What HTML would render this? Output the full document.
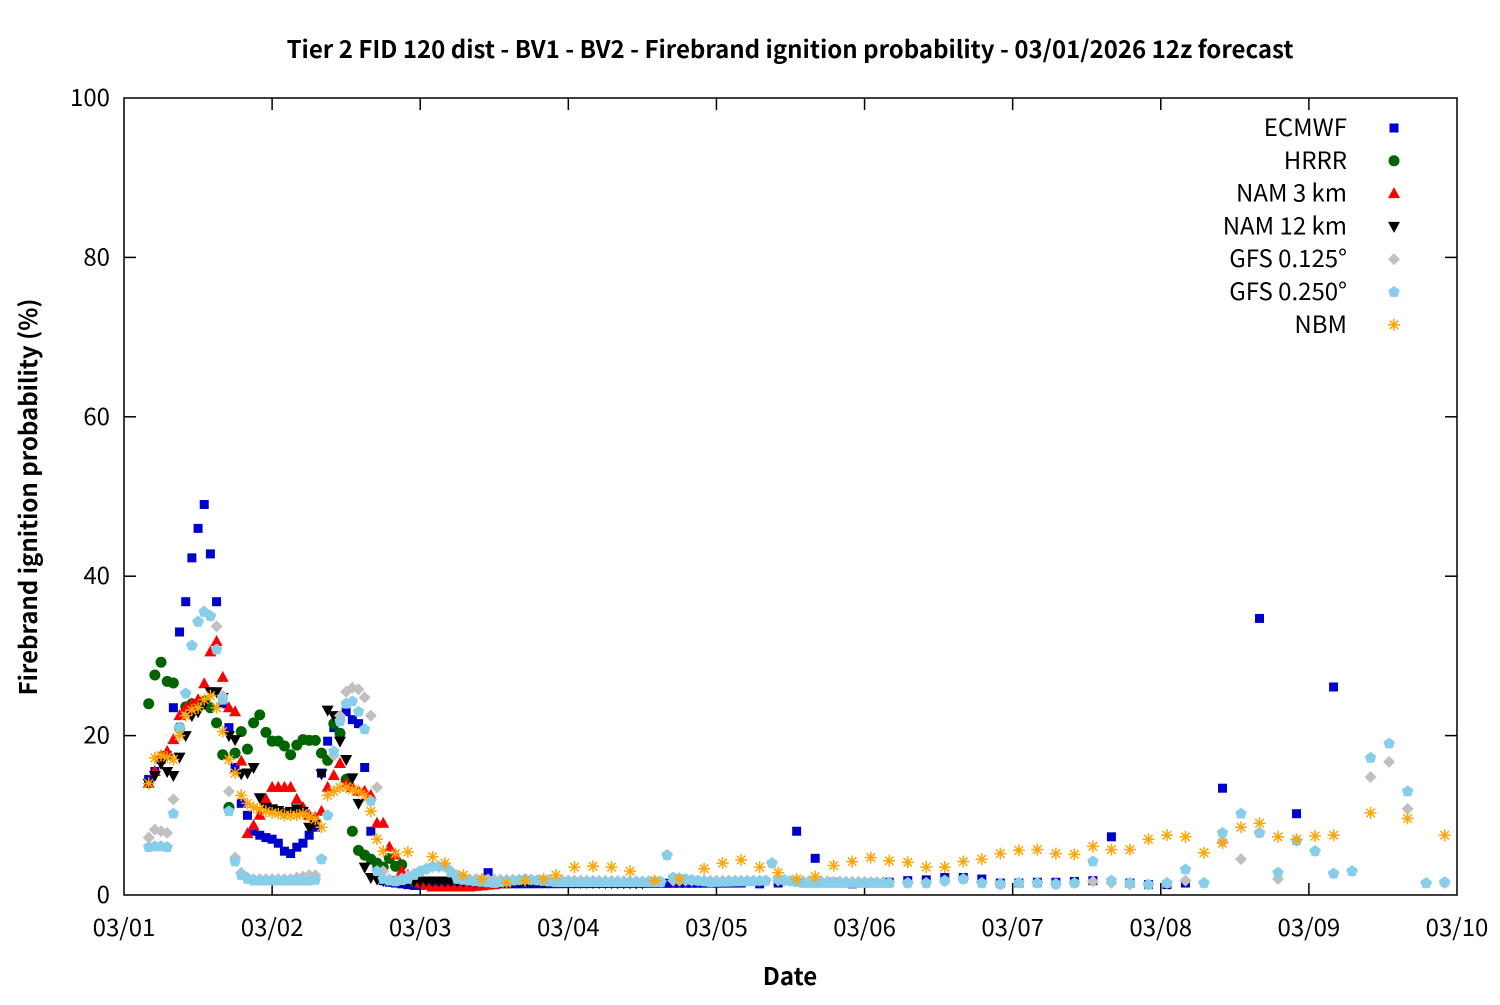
<!DOCTYPE html>
<html><head><meta charset="utf-8"><style>
html,body{margin:0;padding:0;background:#fff;}
svg text{font-family:"Noto Sans CJK JP","Liberation Sans",sans-serif;}
</style></head><body>
<svg id="s" width="1500" height="1000" xmlns="http://www.w3.org/2000/svg">
<rect width="1500" height="1000" fill="#fff"/>
<text x="790" y="58" font-size="24" font-weight="bold" text-anchor="middle">Tier 2 FID 120 dist - BV1 - BV2 - Firebrand ignition probability - 03/01/2026 12z forecast</text>
<text x="790" y="985" font-size="24" font-weight="bold" text-anchor="middle">Date</text>
<text transform="translate(37,497) rotate(-90)" font-size="24" font-weight="bold" text-anchor="middle">Firebrand ignition probability (%)</text>
<g id="ax" stroke="#000" stroke-width="1.5" fill="none"></g>
<g id="lab" font-size="24"></g>
<g id="pts"></g>
<g id="leg" font-size="24" text-anchor="end"></g>
</svg>
<script>
var X0=124,X1=1457,Y0=895,Y1=98;
var dpx=(X1-X0)/9;
function xh(h){return X0+h*dpx/24;}
function yv(v){return Y0-v*(Y0-Y1)/100;}
var NS="http://www.w3.org/2000/svg";
function el(t,a,p){var e=document.createElementNS(NS,t);for(var k in a)e.setAttribute(k,a[k]);p.appendChild(e);return e;}
var ax=document.getElementById('ax'),lab=document.getElementById('lab');
el('rect',{x:X0,y:Y1,width:X1-X0,height:Y0-Y1},ax);
for(var i=0;i<=5;i++){var y=yv(i*20);
 if(i>0&&i<5){el('line',{x1:X0,y1:y,x2:X0+12,y2:y},ax);el('line',{x1:X1,y1:y,x2:X1-12,y2:y},ax);}
 var t=el('text',{x:110,y:y+8,'text-anchor':'end'},lab);t.textContent=i*20;}
var days=['03/01','03/02','03/03','03/04','03/05','03/06','03/07','03/08','03/09','03/10'];
for(var d=0;d<10;d++){var x=X0+d*dpx;
 if(d>0&&d<9){el('line',{x1:x,y1:Y0,x2:x,y2:Y0-12},ax);el('line',{x1:x,y1:Y1,x2:x,y2:Y1+12},ax);}
 var t=el('text',{x:x,y:936,'text-anchor':'middle'},lab);t.textContent=days[d];}
function interp(keys,h){for(var i=0;i<keys.length-1;i++){if(h>=keys[i][0]&&h<=keys[i+1][0]){var a=keys[i],b=keys[i+1];return a[1]+(b[1]-a[1])*(h-a[0])/(b[0]-a[0]);}}return keys[keys.length-1][1];}
function dense(keys,s,e,st){var r=[];for(var h=s;h<=e;h+=st)r.push([h,interp(keys,h)]);return r;}
function hourly(vals,s){return vals.map(function(v,i){return [s+i,v];});}
var ecm=hourly([14.5,15.5,17,17.5,23.5,33,36.8,42.3,46,49,42.8,36.8,24,21,16,11.5,10,8,7.5,7.2,7,6.5,5.5,5.2,6,6.5,7.5,8.5,15.3,19.3,21,22.5,23,22,21.5,16,8,3,1.8,1.6,1.5,1.4,1.3,1.2,1.2,1.3,1.2,1.2],4)
 .concat(dense([[52,1.3],[58,1.4],[59,2.8],[60,1.4],[100,1.5]],52,100,1))
 .concat([[103,1.4],[106,1.5],[109,8],[112,4.6],[115,1.6],[118,1.4],[121,1.5],[124,1.6],[127,1.8],[130,1.9],[133,2.2],[136,2.2],[139,2],[142,1.5],[145,1.5],[148,1.6],[151,1.6],[154,1.7],[157,1.8],[160,7.3],[163,1.5],[166,1.3],[169,1.3],[172,1.5],[178,13.4],[184,34.7],[190,10.2],[196,26.1]]);
var hrrr=hourly([24,27.6,29.2,26.8,26.6,21,23.6,24,23.6,24.3,23.5,21.6,17.6,11,17.8,20.5,18.3,21.6,22.6,20.4,19.3,19.3,18.7,17.6,18.8,19.5,19.4,19.4,17.8,16.9,21.5,20.3,14.5,8,5.6,5,4.5,4,3.5,4.6,3.6,3.8,2.2,1.7,1.5],4);
var nam3=hourly([14,15.5,17.5,18,19.5,22.5,23.5,24,24.5,26.5,30.5,31.8,27.3,23.5,23,16.8,7.7,8.7,10,12,13.5,13.5,13.5,13.5,12,11,10,9.7,10.5,13.5,15,16.5,14,13.5,13,13,12.5,9,9,6,5,3,2.5,2,1.5,1.2],4)
 .concat(dense([[50,1],[56,1],[60,1.3]],50,60,1));
var nam12=hourly([14,15,16.5,15.5,15,17.3,20,22.5,23,24,25.5,25.5,24.8,20,19.5,15.2,15.3,16,12.2,11,10.8,10.6,10.3,10.5,10.8,10.5,8.5,9,15.2,23.2,22.5,19.3,17,14.7,11.5,3.5,2.2,2,1.8],4)
 .concat(dense([[43,1.8],[84,1.5]],43,84,1));
var gfs1=hourly([7.2,8.2,8,7.8,12,21,25.3,31.3,34.3,35.6,35,33.7,25,13,4.7,2.8,2.2,2,2,2,2,2,2,2,2.2,2.3,2.5,2.5,4.5,10,17.5,22.5,25.5,26,25.8,24.8,22.5,13.5,3,2],4)
 .concat(dense([[44,1.8],[50,3.5],[52,3.5],[55,2],[87,1.7],[88,5],[89,1.8],[104,1.8],[105,4],[106,1.8],[124,1.6]],44,124,1))
 .concat([[127,1.5],[130,1.5],[133,1.7],[136,2],[139,1.5],[142,1.3],[145,1.5],[148,1.5],[151,1.3],[154,1.5],[157,1.7],[160,1.5],[163,1.3],[166,1.3],[169,1.5],[172,1.8],[175,1.5],[178,6.7],[181,4.5],[184,7.8],[187,2],[190,6.8],[193,5.5],[196,2.7],[199,3],[202,14.8],[205,16.7],[208,10.8],[211,1.5],[214,1.5]]);
var gfs2=hourly([6,6.1,6.1,6,10.2,21,25.3,31.3,34.3,35.5,35,30.8,24.5,10.5,4.2,2.5,2,1.8,1.8,1.8,1.8,1.8,1.8,1.8,1.8,1.8,1.8,1.9,4.5,10,18,21.8,24,24.3,23,20.8,11.8,3,2,1.8],4)
 .concat(dense([[44,1.7],[46,2],[48,3],[50,3.6],[52,3.6],[54,2],[56,1.8],[60,1.5],[65,2],[70,1.6],[87,1.6],[88,5],[89,2.2],[95,1.6],[104,1.8],[105,4],[106,2],[110,1.5],[124,1.5]],44,124,1))
 .concat([[127,1.5],[130,1.5],[133,1.8],[136,2],[139,1.5],[142,1.4],[145,1.5],[148,1.5],[151,1.4],[154,1.5],[157,4.2],[160,1.8],[163,1.5],[166,1.3],[169,1.5],[172,3.2],[175,1.5],[178,7.8],[181,10.2],[184,7.8],[187,2.8],[190,6.8],[193,5.5],[196,2.7],[199,3],[202,17.2],[205,19],[208,13],[211,1.5],[214,1.6]]);
var nbm=hourly([14,17.2,17.5,17.3,17,20,22.5,23.2,23.5,24.5,25,23.5,20.5,17,15.3,12.5,11.5,11,10.8,10.5,10.3,10.2,10,10,10,10.2,9.8,9.5,8.5,12.5,13,13.5,13.5,13.2,13,12.5,10.5,7,5.5],4)
 .concat([[44,5.2],[46,5.4],[50,4.8],[52,4],[55,2.5],[58,2],[62,1.5],[65,1.8],[68,2],[70,2.5],[73,3.5],[76,3.6],[79,3.5],[82,3],[86,1.8],[90,2],[94,3.3],[97,4],[100,4.4],[103,3.5],[106,2.8],[109,2],[112,2.3],[115,3.7],[118,4.2],[121,4.7],[124,4.3],[127,4.1],[130,3.5],[133,3.5],[136,4.2],[139,4.5],[142,5.2],[145,5.6],[148,5.7],[151,5.2],[154,5.1],[157,6.1],[160,5.7],[163,5.7],[166,7],[169,7.5],[172,7.3],[175,5.3],[178,6.5],[181,8.5],[184,9],[187,7.3],[190,7],[193,7.4],[196,7.5],[202,10.3],[208,9.6],[214,7.5]]);
var pts=document.getElementById('pts');
function mk(type,x,y,p){
 if(type=='sq')el('rect',{x:x-4.5,y:y-4.5,width:9,height:9,fill:'#0000cc'},p);
 else if(type=='ci')el('circle',{cx:x,cy:y,r:5.5,fill:'#006400'},p);
 else if(type=='tu')el('polygon',{points:(x-6)+','+(y+4.5)+' '+(x+6)+','+(y+4.5)+' '+x+','+(y-6.5),fill:'#ff0000'},p);
 else if(type=='td')el('polygon',{points:(x-6)+','+(y-4.5)+' '+(x+6)+','+(y-4.5)+' '+x+','+(y+6.5),fill:'#000'},p);
 else if(type=='di')el('polygon',{points:x+','+(y-6)+' '+(x+6)+','+y+' '+x+','+(y+6)+' '+(x-6)+','+y,fill:'#c0c0c0'},p);
 else if(type=='pe'){var s='';for(var i=0;i<5;i++){var a=-Math.PI/2+i*2*Math.PI/5;s+=(x+6*Math.cos(a))+','+(y+6*Math.sin(a))+' ';}el('polygon',{points:s,fill:'#87ceeb'},p);}
 else if(type=='as'){var g=el('g',{stroke:'#ffa500','stroke-width':1.5},p);for(var i=0;i<4;i++){var a=i*Math.PI/4;el('line',{x1:x-6*Math.cos(a),y1:y-6*Math.sin(a),x2:x+6*Math.cos(a),y2:y+6*Math.sin(a)},g);}}
}
var series=[[ecm,'sq'],[hrrr,'ci'],[nam3,'tu'],[nam12,'td'],[gfs1,'di'],[gfs2,'pe'],[nbm,'as']];
series.forEach(function(s){s[0].forEach(function(p){mk(s[1],xh(p[0]),yv(p[1]),pts);});});
var leg=document.getElementById('leg');
var names=['ECMWF','HRRR','NAM 3 km','NAM 12 km','GFS 0.125°','GFS 0.250°','NBM'];
var types=['sq','ci','tu','td','di','pe','as'];
for(var i=0;i<7;i++){var y=128+i*32.8;var t=el('text',{x:1347,y:y+8},leg);t.textContent=names[i];mk(types[i],1394,y,leg);}
</script>
</body></html>
